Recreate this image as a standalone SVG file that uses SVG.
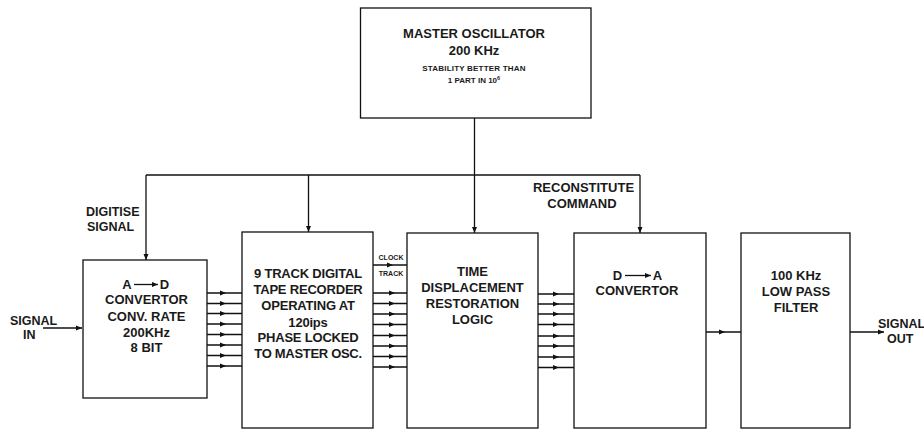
<svg xmlns="http://www.w3.org/2000/svg" width="924" height="432" viewBox="0 0 924 432">
<style>
.box{fill:#fff;stroke:#111;stroke-width:1.3}
.ln{fill:none;stroke:#111;stroke-width:1.3}
.t{font-family:"Liberation Sans",Arial,sans-serif;font-weight:bold;font-size:13px;fill:#1a1a1a;text-anchor:middle}
.s{font-family:"Liberation Sans",Arial,sans-serif;font-weight:bold;font-size:8px;fill:#1a1a1a;text-anchor:middle}
.xs{font-family:"Liberation Sans",Arial,sans-serif;font-weight:bold;font-size:7px;fill:#1a1a1a;text-anchor:middle}
.l{font-family:"Liberation Sans",Arial,sans-serif;font-weight:bold;font-size:12.5px;fill:#1a1a1a}
</style>
<defs>
<marker id="ah" markerUnits="userSpaceOnUse" markerWidth="8" markerHeight="6" refX="6" refY="3" orient="auto">
<path d="M0,0.5 L6,3 L0,5.5 Z" fill="#111"/>
</marker>
</defs>
<rect width="924" height="432" fill="#fff"/>

<g id="connectors">
<!-- master oscillator feed -->
<path class="ln" d="M474.5 118 V233" marker-end="url(#ah)"/>
<path class="ln" d="M146 175 H640"/>
<path class="ln" d="M146 175 V260" marker-end="url(#ah)"/>
<path class="ln" d="M308.5 175 V232" marker-end="url(#ah)"/>
<path class="ln" d="M640 175 V233" marker-end="url(#ah)"/>
<!-- signal in -->
<path class="ln" d="M43 328 H82" marker-end="url(#ah)"/>
<!-- A/D to recorder -->
<path class="ln" d="M207 293 H226 H242" marker-mid="url(#ah)"/>
<path class="ln" d="M207 303.5 H226 H242" marker-mid="url(#ah)"/>
<path class="ln" d="M207 313.5 H226 H242" marker-mid="url(#ah)"/>
<path class="ln" d="M207 324 H226 H242" marker-mid="url(#ah)"/>
<path class="ln" d="M207 334.5 H226 H242" marker-mid="url(#ah)"/>
<path class="ln" d="M207 345 H226 H242" marker-mid="url(#ah)"/>
<path class="ln" d="M207 355.5 H226 H242" marker-mid="url(#ah)"/>
<path class="ln" d="M207 366 H226 H242" marker-mid="url(#ah)"/>
<!-- clock track -->
<path class="ln" d="M373 265 H393 H407" marker-mid="url(#ah)"/>
<!-- recorder to time logic -->
<path class="ln" d="M373 293 H395 H407" marker-mid="url(#ah)"/>
<path class="ln" d="M373 303.5 H395 H407" marker-mid="url(#ah)"/>
<path class="ln" d="M373 314 H395 H407" marker-mid="url(#ah)"/>
<path class="ln" d="M373 324.5 H395 H407" marker-mid="url(#ah)"/>
<path class="ln" d="M373 335.5 H395 H407" marker-mid="url(#ah)"/>
<path class="ln" d="M373 346 H395 H407" marker-mid="url(#ah)"/>
<path class="ln" d="M373 356.5 H395 H407" marker-mid="url(#ah)"/>
<path class="ln" d="M373 367 H395 H407" marker-mid="url(#ah)"/>
<!-- time logic to D/A -->
<path class="ln" d="M538 294 H559 H574" marker-mid="url(#ah)"/>
<path class="ln" d="M538 304 H559 H574" marker-mid="url(#ah)"/>
<path class="ln" d="M538 314 H559 H574" marker-mid="url(#ah)"/>
<path class="ln" d="M538 324.5 H559 H574" marker-mid="url(#ah)"/>
<path class="ln" d="M538 336 H559 H574" marker-mid="url(#ah)"/>
<path class="ln" d="M538 346 H559 H574" marker-mid="url(#ah)"/>
<path class="ln" d="M538 357 H559 H574" marker-mid="url(#ah)"/>
<path class="ln" d="M538 367.5 H559 H574" marker-mid="url(#ah)"/>
<!-- D/A to filter -->
<path class="ln" d="M706 332 H725 H741" marker-mid="url(#ah)"/>
<!-- signal out -->
<path class="ln" d="M850 332 H884" marker-end="url(#ah)"/>
</g>

<g id="labels">
<text class="l" x="86" y="216">DIGITISE</text>
<text class="l" x="87" y="231">SIGNAL</text>
<text class="t" x="583.5" y="192">RECONSTITUTE</text>
<text class="t" x="582" y="208">COMMAND</text>
<text class="l" x="10" y="325">SIGNAL</text>
<text class="l" x="23" y="339">IN</text>
<text class="xs" x="391" y="260">CLOCK</text>
<text class="xs" x="391" y="276">TRACK</text>
<text class="l" x="878" y="328">SIGNAL</text>
<text class="l" x="887" y="343">OUT</text>
</g>

<g id="master-oscillator">
<rect class="box" x="360.5" y="8" width="230.5" height="110"/>
<text class="t" x="474" y="38">MASTER OSCILLATOR</text>
<text class="t" x="474" y="55">200 KHz</text>
<text class="s" x="474" y="71" letter-spacing="0.2">STABILITY BETTER THAN</text>
<text class="s" x="474" y="83">1 PART IN 10<tspan font-size="5.5px" dy="-3">6</tspan></text>
</g>

<g id="ad-convertor">
<rect class="box" x="83" y="260" width="124" height="138"/>
<text class="t" x="127" y="289">A</text>
<path class="ln" d="M134 284.5 H158" marker-end="url(#ah)"/>
<text class="t" x="164.5" y="289">D</text>
<text class="t" x="146.5" y="304">CONVERTOR</text>
<text class="t" x="146.5" y="320.5">CONV. RATE</text>
<text class="t" x="146.5" y="336.5">200KHz</text>
<text class="t" x="146.5" y="352">8 BIT</text>
</g>

<g id="tape-recorder">
<rect class="box" x="242" y="232" width="131" height="196"/>
<text class="t" x="308" y="278" letter-spacing="-0.2">9 TRACK DIGITAL</text>
<text class="t" x="308" y="294" letter-spacing="-0.2">TAPE RECORDER</text>
<text class="t" x="308" y="310" letter-spacing="-0.2">OPERATING AT</text>
<text class="t" x="308" y="327" letter-spacing="-0.2">120ips</text>
<text class="t" x="308" y="342" letter-spacing="-0.2">PHASE LOCKED</text>
<text class="t" x="308" y="358" letter-spacing="-0.3">TO MASTER OSC.</text>
</g>

<g id="time-logic">
<rect class="box" x="407" y="233" width="131" height="195"/>
<text class="t" x="472.5" y="276">TIME</text>
<text class="t" x="472.5" y="292">DISPLACEMENT</text>
<text class="t" x="472.5" y="308">RESTORATION</text>
<text class="t" x="472.5" y="324">LOGIC</text>
</g>

<g id="da-convertor">
<rect class="box" x="574" y="233" width="132" height="195"/>
<text class="t" x="617.5" y="280">D</text>
<path class="ln" d="M625 275.5 H651" marker-end="url(#ah)"/>
<text class="t" x="657.5" y="280">A</text>
<text class="t" x="637" y="295">CONVERTOR</text>
</g>

<g id="low-pass-filter">
<rect class="box" x="741" y="233" width="109" height="195"/>
<text class="t" x="796" y="280">100 KHz</text>
<text class="t" x="796" y="296">LOW PASS</text>
<text class="t" x="796" y="312">FILTER</text>
</g>
</svg>
